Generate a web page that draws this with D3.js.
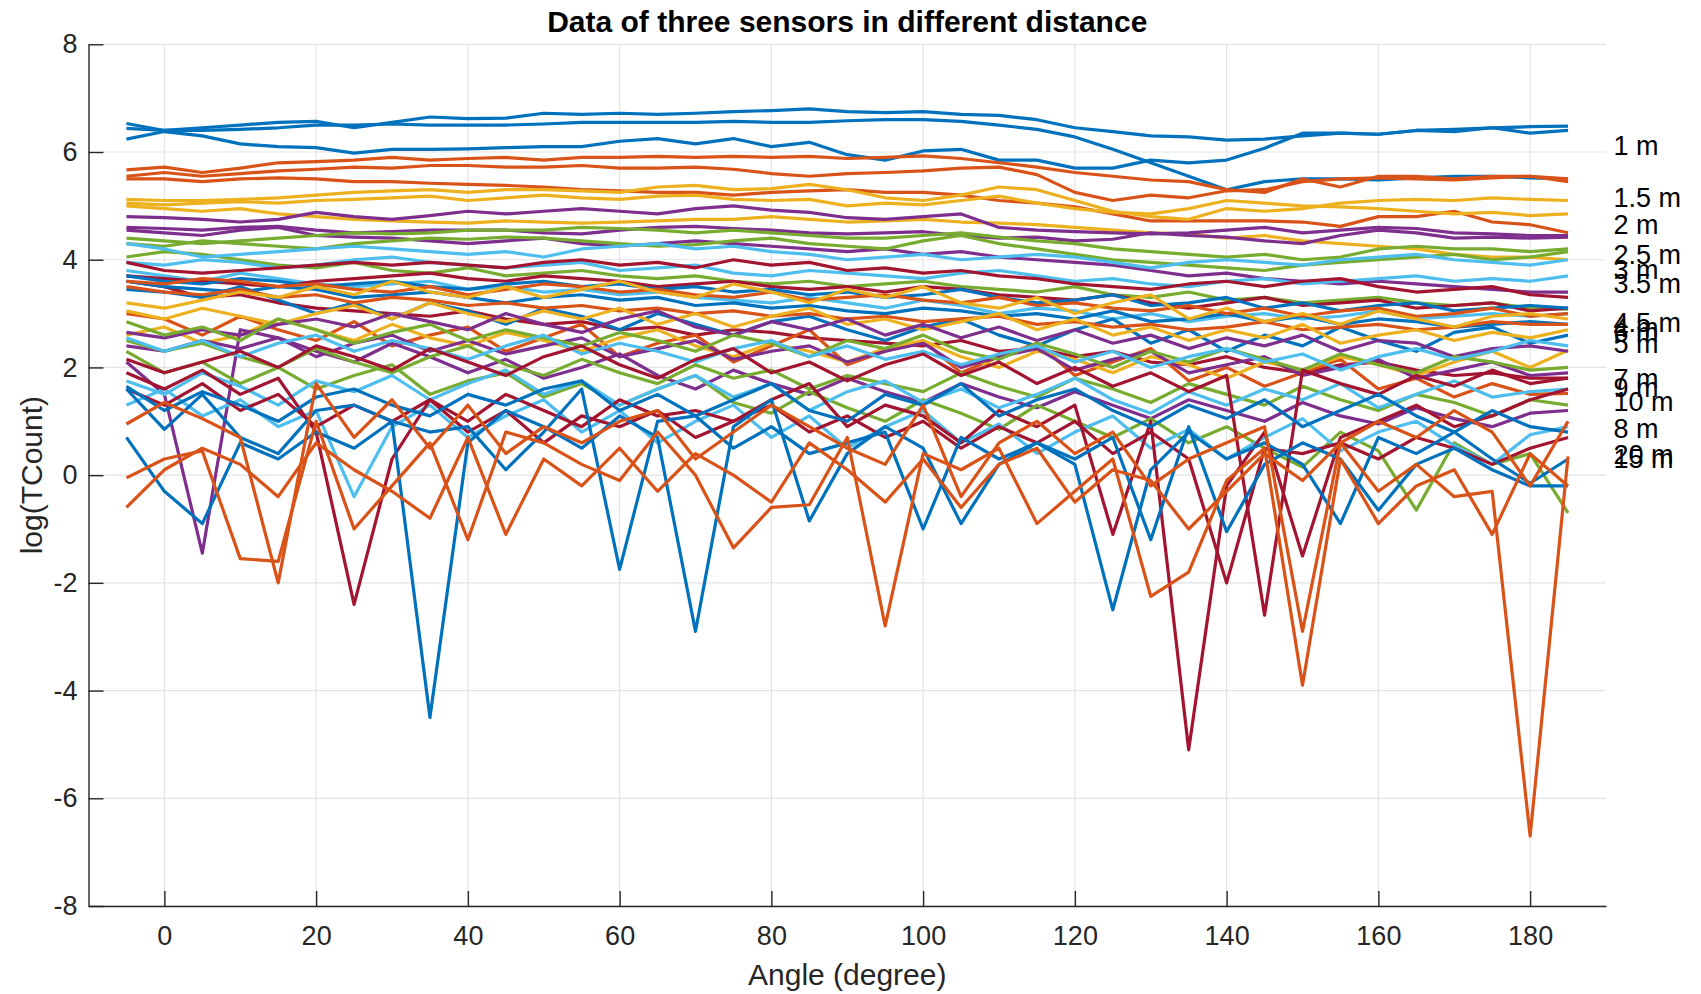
<!DOCTYPE html>
<html lang="en">
<head>
    <meta charset="UTF-8">
    <title>Data of three sensors in different distance</title>
    <script src="https://d3js.org/d3.v7.min.js"></script>
    <style>
        body { margin: 0; background: #fff; }
        svg text { font-family: "Liberation Sans", Arial, Helvetica, sans-serif; }
    </style>
</head>
<body>
    <svg id="chart" width="1701" height="994"></svg>

    <script>
        // Angles (degree) sampled every 5 degrees
        const angles = [-5,0,5,10,15,20,25,30,35,40,45,50,55,60,65,70,75,80,85,90,95,100,105,110,115,120,125,130,135,140,145,150,155,160,165,170,175,180,185];

        const distanceLabels = ["1 m","1.5 m","2 m","2.5 m","3 m","3.5 m","4 m","4.5 m","5 m","6 m","7 m","8 m","9 m","10 m","15 m","20 m"];

        // log(TCount) of the three sensors, one array per distance
        const m1 = [
            [6.53,6.4,6.45,6.5,6.55,6.57,6.45,6.55,6.65,6.62, 6.63,6.72,6.7,6.72,6.7,6.72,6.75,6.77,6.8,6.75, 6.73,6.75,6.7,6.68,6.6,6.45,6.38,6.3,6.28,6.22, 6.24,6.3,6.35,6.33,6.4,6.38,6.45,6.47,6.48],
            [6.44,6.4,6.4,6.42,6.45,6.5,6.5,6.52,6.5,6.5, 6.5,6.52,6.55,6.55,6.55,6.55,6.57,6.55,6.55,6.58, 6.6,6.6,6.57,6.5,6.42,6.28,6.05,5.8,5.55,5.3, 5.45,5.5,5.5,5.48,5.52,5.55,5.55,5.52,5.5],
            [6.24,6.38,6.3,6.15,6.1,6.08,5.98,6.05,6.05,6.06, 6.08,6.1,6.1,6.2,6.25,6.15,6.25,6.1,6.18,5.95, 5.85,6.02,6.05,5.85,5.85,5.7,5.7,5.85,5.8,5.85, 6.07,6.35,6.35,6.33,6.4,6.42,6.45,6.35,6.4]
        ];
        const m1_5 = [
            [5.67,5.72,5.62,5.7,5.8,5.82,5.85,5.9,5.85,5.88, 5.9,5.85,5.9,5.9,5.92,5.9,5.92,5.9,5.92,5.88, 5.9,5.93,5.88,5.8,5.72,5.62,5.55,5.48,5.45,5.3, 5.25,5.5,5.35,5.55,5.55,5.5,5.55,5.55,5.5],
            [5.55,5.62,5.55,5.6,5.65,5.68,5.72,5.7,5.75,5.75, 5.72,5.72,5.75,5.7,5.7,5.72,5.68,5.6,5.55,5.6, 5.62,5.65,5.7,5.72,5.58,5.25,5.1,5.2,5.15,5.28, 5.3,5.45,5.5,5.52,5.5,5.48,5.52,5.55,5.45],
            [5.5,5.5,5.45,5.5,5.52,5.5,5.45,5.45,5.42,5.4, 5.38,5.35,5.3,5.28,5.25,5.25,5.2,5.25,5.28,5.3, 5.25,5.25,5.2,5.1,5.05,4.98,4.85,4.72,4.72,4.72, 4.72,4.7,4.62,4.8,4.8,4.9,4.7,4.65,4.5]
        ];
        const m2 = [
            [5.12,5.1,5.1,5.12,5.15,5.2,5.25,5.28,5.3,5.25, 5.3,5.3,5.28,5.25,5.35,5.38,5.3,5.32,5.4,5.3, 5.15,5.1,5.2,5.35,5.3,5.1,4.9,4.8,4.75,4.95, 4.9,4.95,5.05,5.1,5.12,5.1,5.15,5.12,5.1],
            [5.05,5.02,5.05,5.08,5.05,5.1,5.12,5.15,5.18,5.1, 5.15,5.2,5.15,5.12,5.18,5.2,5.12,5.1,5.12,5.0, 5.05,5.02,5.1,5.18,5.05,4.95,4.88,4.85,4.95,5.1, 5.05,5.0,4.98,4.95,4.9,4.85,4.88,4.82,4.85],
            [5.0,4.95,4.9,4.95,4.85,4.8,4.75,4.72,4.7,4.68, 4.72,4.7,4.68,4.7,4.72,4.75,4.75,4.8,4.75,4.7, 4.72,4.75,4.7,4.68,4.65,4.6,4.55,4.5,4.48,4.4, 4.45,4.35,4.3,4.25,4.2,4.1,4.05,4.05,4.0]
        ];
        const m2_5 = [
            [4.8,4.78,4.75,4.7,4.75,4.88,4.8,4.75,4.82,4.9, 4.85,4.9,4.95,4.9,4.85,4.95,5.0,4.92,4.88,4.78, 4.75,4.8,4.85,4.6,4.55,4.52,4.5,4.48,4.5,4.55, 4.6,4.5,4.55,4.6,4.58,4.5,4.48,4.45,4.45],
            [4.6,4.58,4.55,4.6,4.62,4.55,4.5,4.52,4.55,4.55, 4.55,4.5,4.48,4.55,4.6,4.62,4.58,4.55,4.5,4.48, 4.5,4.52,4.45,4.4,4.42,4.35,4.38,4.5,4.45,4.42, 4.35,4.3,4.45,4.55,4.5,4.4,4.42,4.4,4.42],
            [4.55,4.5,4.45,4.55,4.6,4.45,4.42,4.4,4.35,4.3, 4.35,4.4,4.3,4.25,4.3,4.35,4.3,4.25,4.2,4.15, 4.2,4.1,4.15,4.05,4.0,3.95,3.9,3.8,3.7,3.75, 3.65,3.6,3.55,3.6,3.55,3.5,3.45,3.4,3.4]
        ];
        const m3 = [
            [4.4,4.35,4.3,4.35,4.4,4.45,4.5,4.48,4.5,4.55, 4.55,4.55,4.6,4.58,4.55,4.5,4.55,4.5,4.45,4.4, 4.4,4.45,4.5,4.42,4.35,4.3,4.2,4.15,4.1,4.05, 4.1,4.0,4.05,4.2,4.25,4.2,4.2,4.15,4.2],
            [4.3,4.25,4.35,4.3,4.25,4.2,4.3,4.35,4.4,4.38, 4.42,4.4,4.35,4.3,4.25,4.28,4.35,4.4,4.3,4.25, 4.2,4.35,4.45,4.3,4.2,4.1,4.0,3.95,3.9,3.85, 3.8,3.9,3.95,4.0,4.05,4.1,4.0,4.05,4.15],
            [4.05,4.15,4.1,4.0,3.9,3.85,3.95,3.8,3.75,3.85, 3.7,3.75,3.8,3.7,3.65,3.7,3.6,3.55,3.6,3.5, 3.55,3.6,3.5,3.45,3.4,3.5,3.35,3.3,3.4,3.25, 3.3,3.2,3.25,3.3,3.2,3.15,3.2,3.1,3.08]
        ];
        const m3_5 = [
            [4.3,4.2,4.05,4.1,4.15,4.2,4.25,4.2,4.15,4.1, 4.15,4.05,4.2,4.25,4.3,4.2,4.25,4.15,4.1,4.0, 4.05,4.1,4.0,4.05,4.1,4.05,3.95,3.85,3.95,4.0, 3.95,3.9,4.0,4.05,4.1,4.0,3.95,3.9,4.0],
            [3.95,3.9,4.0,3.95,3.85,3.9,4.0,4.05,3.95,3.9, 3.85,3.9,3.95,3.8,3.85,3.9,3.75,3.7,3.8,3.75, 3.7,3.65,3.75,3.8,3.7,3.6,3.65,3.55,3.5,3.6, 3.65,3.55,3.6,3.65,3.7,3.6,3.65,3.6,3.7],
            [3.8,3.7,3.6,3.75,3.65,3.55,3.5,3.55,3.6,3.45, 3.5,3.4,3.45,3.35,3.4,3.3,3.25,3.2,3.3,3.2, 3.1,3.25,3.15,3.0,3.1,3.05,2.9,3.0,2.85,2.95, 3.0,2.9,2.95,3.05,2.9,2.95,3.0,2.95,3.0]
        ];
        const m4 = [
            [3.95,3.8,3.75,3.8,3.85,3.9,3.95,3.9,3.95,3.9, 3.85,3.95,4.0,3.9,3.95,3.85,4.0,3.9,3.95,3.8, 3.85,3.75,3.8,3.7,3.65,3.55,3.5,3.45,3.55,3.6, 3.5,3.6,3.65,3.5,3.4,3.45,3.5,3.35,3.3],
            [3.7,3.65,3.6,3.55,3.5,3.6,3.65,3.7,3.75,3.65, 3.6,3.7,3.65,3.6,3.5,3.55,3.6,3.5,3.45,3.5, 3.4,3.5,3.45,3.35,3.3,3.25,3.35,3.2,3.1,3.2, 3.3,3.15,3.2,3.25,3.1,3.15,3.2,3.05,3.1],
            [3.6,3.5,3.3,3.35,3.2,3.1,3.05,3.0,2.95,3.05, 2.9,2.8,2.85,2.7,2.75,2.6,2.7,2.65,2.55,2.5, 2.45,2.4,2.5,2.3,2.35,2.2,2.3,2.1,2.05,2.2, 2.0,1.9,2.05,2.1,1.95,1.85,1.9,1.8,1.8]
        ];
        const m4_5 = [
            [3.7,3.6,3.55,3.65,3.6,3.5,3.55,3.6,3.5,3.45, 3.55,3.6,3.5,3.55,3.45,3.5,3.4,3.45,3.35,3.4, 3.3,3.35,3.45,3.3,3.2,3.25,3.35,3.15,3.2,3.3, 3.1,3.2,3.05,3.15,3.2,3.05,3.1,3.15,3.1],
            [3.6,3.5,3.45,3.4,3.5,3.45,3.3,3.35,3.4,3.3, 3.2,3.3,3.35,3.25,3.3,3.15,3.2,3.1,3.15,3.05, 3.0,3.1,3.05,2.95,3.0,2.9,3.05,2.85,2.9,3.0, 2.85,2.95,2.8,2.9,2.85,2.75,2.8,2.85,2.8],
            [3.45,3.4,3.3,3.5,3.25,3.0,3.2,2.9,3.2,3.05, 2.8,3.1,2.95,2.7,3.0,2.8,2.6,2.85,2.95,2.7, 2.5,2.75,2.9,2.6,2.4,2.7,2.9,2.45,2.7,2.3, 2.6,2.4,2.75,2.5,2.3,2.65,2.75,2.45,2.6]
        ];
        const m5 = [
            [3.6,3.55,3.65,3.6,3.5,3.55,3.45,3.4,3.5,3.35, 3.45,3.55,3.5,3.4,3.45,3.35,3.3,3.4,3.25,3.3, 3.35,3.25,3.2,3.3,3.15,3.2,3.1,3.05,3.15,3.0, 3.1,2.95,3.05,3.1,2.95,3.0,3.1,2.95,3.0],
            [3.5,3.4,3.35,3.45,3.3,3.35,3.2,3.3,3.25,3.15, 3.2,3.1,3.15,3.05,3.1,3.0,3.05,2.95,3.0,2.9, 2.95,2.85,2.9,2.95,2.8,2.85,2.75,2.8,2.7,2.75, 2.85,2.7,2.75,2.8,2.7,2.75,2.85,2.8,2.8],
            [3.0,2.9,2.6,2.95,2.7,2.5,2.85,2.4,2.6,2.75, 2.3,2.55,2.8,2.2,2.45,2.6,2.1,2.4,2.7,2.05, 2.3,2.5,1.9,2.2,2.45,1.85,2.1,2.35,1.75,2.0, 1.65,1.9,2.15,1.6,1.8,1.45,1.7,1.5,1.52]
        ];
        const m6 = [
            [3.2,3.1,3.25,3.4,3.3,3.5,3.35,3.6,3.4,3.3, 3.5,3.3,3.45,3.6,3.4,3.3,3.55,3.4,3.2,3.45, 3.3,3.5,3.2,3.1,3.3,3.0,3.2,3.35,2.9,3.1, 2.85,3.0,2.8,3.05,2.9,2.75,2.95,3.0,2.9],
            [3.05,2.9,3.1,2.95,2.8,3.0,3.15,2.9,3.2,3.0, 2.85,3.05,2.9,3.1,2.8,3.0,2.75,2.95,3.1,2.8, 2.9,2.7,2.85,3.0,2.7,2.9,2.6,2.75,2.5,2.7, 2.55,2.8,2.45,2.6,2.7,2.5,2.65,2.55,2.7],
            [2.6,2.75,2.45,2.6,2.9,2.7,2.5,2.8,2.55,2.4, 2.65,2.5,2.3,2.55,2.7,2.4,2.2,2.45,2.3,2.1, 2.35,2.5,2.2,2.0,2.3,2.15,1.9,2.2,2.05,1.8, 2.1,1.95,2.2,2.05,1.85,2.1,2.3,2.0,2.32]
        ];
        const m7 = [
            [2.65,2.55,2.7,2.6,2.8,2.9,2.75,3.0,2.85,2.7, 3.0,2.8,2.65,2.9,3.05,2.75,2.6,2.85,2.7,2.9, 2.6,2.8,2.55,2.75,2.5,2.7,2.45,2.6,2.35,2.55, 2.4,2.6,2.3,2.5,2.45,2.2,2.35,2.4,2.3],
            [2.4,2.3,2.5,2.35,2.55,2.2,2.45,2.6,2.3,2.5, 2.25,2.4,2.55,2.2,2.35,2.5,2.15,2.3,2.4,2.1, 2.3,2.45,2.0,2.2,2.35,1.95,2.15,2.3,1.9,2.05, 2.2,1.85,2.0,2.15,1.8,1.95,2.1,1.85,1.9],
            [2.1,1.5,-1.45,2.7,2.55,2.3,2.1,2.45,2.2,1.9, 2.15,1.8,2.0,2.25,1.85,1.6,1.95,1.7,1.5,1.8, 1.55,1.35,1.7,1.45,1.25,1.55,1.3,1.05,1.4,1.2, 1.0,1.35,1.1,0.95,1.25,1.05,0.9,1.15,1.2]
        ];
        const m8 = [
            [2.85,2.6,2.75,2.5,2.9,2.7,2.45,2.65,2.8,2.5, 2.7,2.55,2.4,2.65,2.5,2.3,2.6,2.45,2.2,2.5, 2.35,2.6,2.3,2.15,2.45,2.25,2.0,2.3,2.1,2.35, 2.15,1.95,2.25,2.05,1.9,2.2,2.1,1.95,2.0],
            [2.5,2.3,2.45,2.2,2.0,2.35,2.1,1.9,2.2,2.4, 2.05,1.85,2.15,1.9,1.7,2.05,1.8,1.95,1.6,1.85, 1.7,1.55,1.9,1.65,1.45,1.8,1.6,1.35,1.7,1.5, 1.3,1.65,1.4,1.2,1.5,1.35,1.1,1.4,1.3],
            [2.3,1.9,2.1,1.7,2.0,1.6,1.85,2.05,1.5,1.75, 1.9,1.45,1.7,1.3,1.6,1.85,1.35,1.15,1.55,1.25, 1.0,1.4,1.15,0.85,1.3,1.0,0.7,1.05,0.6,0.9, 0.5,0.15,0.8,0.45,-0.65,0.6,0.2,0.4,-0.7]
        ];
        const m9 = [
            [2.55,2.3,2.5,2.2,2.45,2.6,2.3,2.5,2.35,2.15, 2.4,2.6,2.25,2.45,2.3,2.1,2.35,2.5,2.2,2.4, 2.15,2.3,2.05,2.25,2.4,2.1,2.3,2.0,2.2,2.35, 2.1,2.25,1.95,2.2,2.35,2.15,2.3,2.5,2.4],
            [1.75,1.5,1.9,1.65,1.3,1.75,1.55,1.85,1.4,1.7, 1.95,1.5,1.75,1.3,1.6,1.85,1.45,1.7,1.2,1.55, 1.75,1.35,1.6,1.25,1.5,1.8,1.4,1.15,1.55,1.3, 1.6,1.4,1.7,1.25,1.5,1.75,1.45,1.55,1.6],
            [1.3,1.6,1.1,1.4,0.9,1.2,-0.4,0.9,1.3,0.7, 1.1,1.4,0.8,1.2,0.6,1.0,1.3,0.7,1.1,0.5, 0.9,1.2,0.6,0.95,0.4,0.8,1.1,0.5,0.85,0.3, 0.7,1.05,0.45,0.8,1.0,0.55,0.2,0.75,0.9]
        ];
        const m10 = [
            [2.15,1.9,2.1,2.3,2.0,2.4,2.2,1.95,2.35,2.1, 1.85,2.2,2.4,2.05,1.8,2.15,2.35,1.9,2.1,1.75, 2.05,2.25,1.85,2.1,1.7,2.0,1.65,1.9,1.55,1.85, -2.6,1.95,1.7,1.5,1.85,1.65,1.95,1.7,1.8],
            [1.9,1.6,1.95,1.5,1.8,0.8,-2.4,0.3,1.4,1.0, 1.5,1.2,0.9,1.4,1.1,1.2,1.0,1.4,1.7,0.9, 1.3,1.1,0.6,1.2,0.9,1.3,-1.1,1.0,-5.1,-0.2, 0.8,-1.5,0.7,1.0,1.3,0.9,1.1,1.4,1.6],
            [1.6,1.3,1.7,1.2,1.5,0.9,1.3,1.0,1.4,0.8, 1.2,0.6,1.1,0.9,1.2,0.7,1.0,1.3,0.8,1.1, 0.7,1.0,0.5,0.9,0.6,1.0,0.4,0.8,0.3,-2.0, 0.5,0.4,0.6,0.3,0.7,0.5,0.2,0.5,0.7]
        ];
        const m15 = [
            [1.65,1.2,1.55,1.3,1.0,1.45,1.6,1.3,1.1,1.5, 1.3,1.6,1.75,1.2,1.5,1.1,1.4,1.7,1.2,1.0, 1.5,1.3,1.7,1.1,1.4,1.6,1.2,0.9,1.3,1.05, 1.4,0.9,1.2,1.5,1.1,0.8,1.2,0.9,0.8],
            [1.6,0.85,1.5,0.7,0.4,1.2,1.3,1.0,0.8,0.9, 0.1,0.8,1.6,-1.75,1.0,1.1,0.5,0.9,0.4,0.6, 0.8,-1.0,0.7,0.3,0.6,0.2,-2.5,0.1,0.8,0.3, 0.6,0.2,-0.9,0.7,0.4,0.8,0.3,-0.15,0.3],
            [0.7,-0.3,-0.9,0.6,0.3,0.8,0.5,1.0,-4.5,0.6, 1.2,0.9,0.5,1.1,0.7,-2.9,0.9,1.4,-0.85,0.4, 0.9,0.5,-0.9,0.2,0.6,0.3,0.7,-1.2,0.9,-1.05, 0.2,0.6,0.3,-0.65,0.2,0.5,0.1,-0.2,-0.2]
        ];
        const m20 = [
            [0.95,1.35,1.05,0.7,-2.0,1.7,0.7,1.4,0.5,1.3, 0.4,0.9,0.6,1.0,1.2,0.3,0.8,1.3,0.9,0.5, 0.2,1.3,-0.4,0.6,1.0,0.4,0.8,-0.2,0.3,0.6, 0.9,-2.9,0.6,1.0,0.7,1.2,0.8,-0.2,1.0],
            [-0.05,0.3,0.45,-1.55,-1.6,1.0,-1.0,-0.2,0.6,-1.2, 0.8,0.6,0.2,-0.1,0.8,0.0,-1.35,-0.6,-0.55,0.7, -2.8,0.4,0.1,0.5,-0.9,-0.3,0.3,-2.25,-1.8,-0.1, 0.5,-3.9,0.3,-0.9,-0.2,0.1,-1.1,0.4,-0.2],
            [-0.6,0.1,0.5,0.2,-0.4,0.6,0.1,-0.3,-0.8,0.7, -1.1,0.3,-0.2,0.5,-0.3,0.4,0.0,-0.5,0.6,0.1, -0.5,0.3,-0.6,0.2,0.5,-0.5,0.1,-0.1,-1.0,-0.3, 0.4,-0.1,0.6,-0.3,0.2,-0.4,-0.3,-6.7,0.35]
        ];

        const groups = [m1, m1_5, m2, m2_5, m3, m3_5, m4, m4_5, m5, m6, m7, m8, m9, m10, m15, m20];

        const xTicks = [0, 20, 40, 60, 80, 100, 120, 140, 160, 180];
        const yTicks = [-8, -6, -4, -2, 0, 2, 4, 6, 8];

        // MATLAB default colour order
        const colors = ["#0072BD", "#D95319", "#EDB120", "#7E2F8E", "#77AC30", "#4DBEEE", "#A2142F"];

        const svg = d3.select("#chart");
        const plotL = 88.5, plotR = 1606, plotT = 44.3, plotB = 906;

        const x = d3.scaleLinear().domain([-10, 190]).range([plotL, plotR]);
        const y = d3.scaleLinear().domain([-8, 8]).range([plotB, plotT]);

        // grid
        const grid = svg.append("g").attr("stroke", "#e3e3e3").attr("stroke-width", 1.2);
        grid.selectAll(".vg").data(xTicks).enter().append("line")
            .attr("x1", d => x(d)).attr("x2", d => x(d))
            .attr("y1", plotT).attr("y2", plotB);
        grid.selectAll(".hg").data(yTicks).enter().append("line")
            .attr("x1", plotL).attr("x2", plotR)
            .attr("y1", d => y(d)).attr("y2", d => y(d));

        // lines
        const line = d3.line()
            .x((d, i) => x(angles[i]))
            .y(d => y(d));

        groups.forEach((g, gi) => {
            svg.append("g")
                .selectAll("path")
                .data(g)
                .enter()
                .append("path")
                .attr("d", line)
                .attr("fill", "none")
                .attr("stroke", colors[gi % colors.length])
                .attr("stroke-width", 3.2)
                .attr("stroke-linejoin", "round");
        });

        // axes (plain hyphen minus like the original)
        const fmt = d => String(d);
        const xAxis = svg.append("g")
            .attr("transform", `translate(0,${plotB})`)
            .call(d3.axisBottom(x).tickValues(xTicks).tickFormat(fmt).tickSizeInner(-15).tickSizeOuter(0).tickPadding(20));
        const yAxis = svg.append("g")
            .attr("transform", `translate(${plotL},0)`)
            .call(d3.axisLeft(y).tickValues(yTicks).tickFormat(fmt).tickSizeInner(-15).tickSizeOuter(0).tickPadding(11));

        [xAxis, yAxis].forEach(a => {
            a.select(".domain").attr("stroke", "#262626").attr("stroke-width", 1.4);
            a.selectAll(".tick line").attr("stroke", "#262626").attr("stroke-width", 1.4);
            a.selectAll(".tick text")
                .attr("fill", "#262626")
                .style("font-size", "27px")
                .style("font-family", "'Liberation Sans', Arial, sans-serif");
        });

        // distance labels at the mean of the last readings
        svg.append("g")
            .selectAll("text")
            .data(groups)
            .enter()
            .append("text")
            .attr("x", x(191))
            .attr("y", g => y(d3.mean(g, s => s[s.length - 1])))
            .attr("dy", "0.35em")
            .attr("fill", "#000")
            .style("font-size", "27px")
            .text((g, i) => distanceLabels[i]);

        // title and axis labels
        svg.append("text")
            .attr("x", (plotL + plotR) / 2)
            .attr("y", 32)
            .attr("text-anchor", "middle")
            .attr("fill", "#000")
            .style("font-size", "30px")
            .style("font-weight", "bold")
            .text("Data of three sensors in different distance");

        svg.append("text")
            .attr("x", (plotL + plotR) / 2)
            .attr("y", 985)
            .attr("text-anchor", "middle")
            .attr("fill", "#262626")
            .style("font-size", "30px")
            .text("Angle (degree)");

        svg.append("text")
            .attr("transform", `translate(42,${(plotT + plotB) / 2}) rotate(-90)`)
            .attr("text-anchor", "middle")
            .attr("fill", "#262626")
            .style("font-size", "30px")
            .text("log(TCount)");
    </script>
</body>
</html>
